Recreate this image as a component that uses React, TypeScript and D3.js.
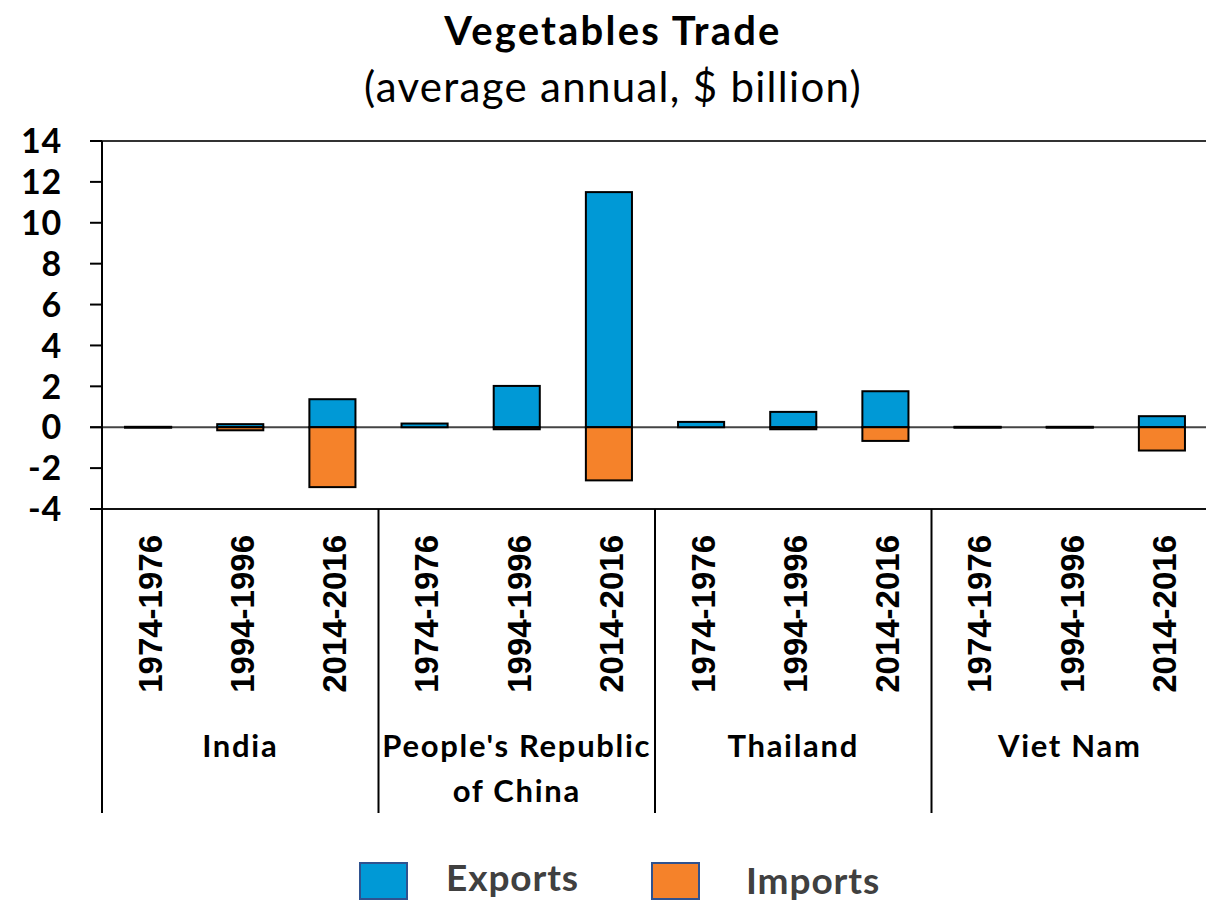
import React from "react";
import * as d3 from "d3";

const countries = ["India", "People's Republic|of China", "Thailand", "Viet Nam"];
const periods = ["1974-1976", "1994-1996", "2014-2016"];
const exportsVals = [
  [0.02, 0.15, 1.37],
  [0.18, 2.02, 11.5],
  [0.26, 0.75, 1.76],
  [0.02, 0.02, 0.54],
];
const importsVals = [
  [-0.02, -0.15, -2.93],
  [0, -0.1, -2.6],
  [0, -0.1, -0.67],
  [-0.02, -0.02, -1.14],
];
const yTicks = [14, 12, 10, 8, 6, 4, 2, 0, -2, -4];

const W = 1206;
const H = 902;
const left = 102;
const right = 1208;
const top = 141;
const bottom = 509;
const groupBottom = 813;

const EXP = "#0099d6";
const IMP = "#f5822a";
const CAL = "Lato, 'Open Sans', sans-serif";
const ARI = "'Liberation Sans', Arial, sans-serif";

export default function App() {
  const keys: string[] = [];
  countries.forEach((c, ci) => periods.forEach((p, pi) => keys.push(`${ci}-${pi}`)));
  const x = d3.scaleBand<string>().domain(keys).range([left, right]).paddingInner(0.5).paddingOuter(0.25);
  const y = d3.scaleLinear().domain([-4, 14]).range([bottom, top]);
  const groupW = (right - left) / countries.length;

  const bars: any[] = [];
  countries.forEach((c, ci) =>
    periods.forEach((p, pi) => {
      const k = `${ci}-${pi}`;
      bars.push({ k, v: exportsVals[ci][pi], color: EXP });
    })
  );
  countries.forEach((c, ci) =>
    periods.forEach((p, pi) => {
      const k = `${ci}-${pi}`;
      bars.push({ k, v: importsVals[ci][pi], color: IMP });
    })
  );

  return (
    <svg width={W} height={H} style={{ position: "absolute", left: 0, top: 0, background: "#fff" }}>
      <text x={613} y={45} textAnchor="middle" fontFamily={CAL} fontWeight={700} fontSize={40} letterSpacing={2.2} fill="#000">
        Vegetables Trade
      </text>
      <text x={613} y={102} textAnchor="middle" fontFamily={CAL} fontWeight={400} fontSize={42} letterSpacing={1.3} fill="#000">
        (average annual, $ billion)
      </text>

      {/* horizontal lines */}
      <line x1={left - 12} x2={right} y1={y(14)} y2={y(14)} stroke="#333" strokeWidth={2} />
      <line x1={left - 12} x2={right} y1={y(0)} y2={y(0)} stroke="#444" strokeWidth={2} />
      <line x1={left - 12} x2={right} y1={y(-4)} y2={y(-4)} stroke="#111" strokeWidth={2} />

      {/* bars */}
      {bars.map((b, i) => {
        const v = b.v;
        const y0 = y(Math.max(0, v));
        const h = Math.abs(y(v) - y(0));
        return (
          <rect key={"b" + i} x={x(b.k)} y={y0} width={x.bandwidth()} height={h}
            fill={b.color} stroke="#000" strokeWidth={2} />
        );
      })}

      {/* y axis */}
      <line x1={left} x2={left} y1={top} y2={groupBottom} stroke="#000" strokeWidth={2} />
      {yTicks.map((t) => (
        <g key={t}>
          <line x1={left - 12} x2={left} y1={y(t)} y2={y(t)} stroke="#000" strokeWidth={2} />
          <text x={62} y={y(t)} dy="0.36em" textAnchor="end" fontFamily={CAL} fontWeight={700} fontSize={34} letterSpacing={0.8} fill="#000">
            {t}
          </text>
        </g>
      ))}

      {/* group separators */}
      {countries.map((c, ci) =>
        ci > 0 ? (
          <line key={"s" + ci} x1={left + groupW * ci} x2={left + groupW * ci} y1={bottom} y2={groupBottom}
            stroke="#000" strokeWidth={2} />
        ) : null
      )}

      {/* period labels */}
      {keys.map((k, i) => {
        const cx = (x(k) as number) + x.bandwidth() / 2 + 2;
        return (
          <text key={"p" + k} transform={`translate(${cx},${535}) rotate(-90)`} textAnchor="end" dy="0.36em"
            fontFamily={ARI} fontWeight={700} fontSize={33} fill="#000">
            {periods[i % 3]}
          </text>
        );
      })}

      {/* country labels */}
      {countries.map((c, ci) => {
        const lines = c.split("|");
        const cx = left + groupW * (ci + 0.5);
        return (
          <text key={"c" + ci} x={cx} textAnchor="middle" fontFamily={CAL} fontWeight={700} fontSize={31} letterSpacing={1.7} fill="#000">
            {lines.map((l, li) => (
              <tspan key={li} x={cx} y={757 + li * 45}>{l}</tspan>
            ))}
          </text>
        );
      })}

      {/* legend */}
      <rect x={360} y={863} width={47} height={36} fill={EXP} stroke="#2f528f" strokeWidth={2} />
      <text x={446} y={891} fontFamily={CAL} fontWeight={700} fontSize={37} letterSpacing={0.9} fill="#404040">Exports</text>
      <rect x={652} y={863} width={47} height={36} fill={IMP} stroke="#2f528f" strokeWidth={2} />
      <text x={746} y={894} fontFamily={CAL} fontWeight={700} fontSize={37} letterSpacing={0.9} fill="#404040">Imports</text>
    </svg>
  );
}
